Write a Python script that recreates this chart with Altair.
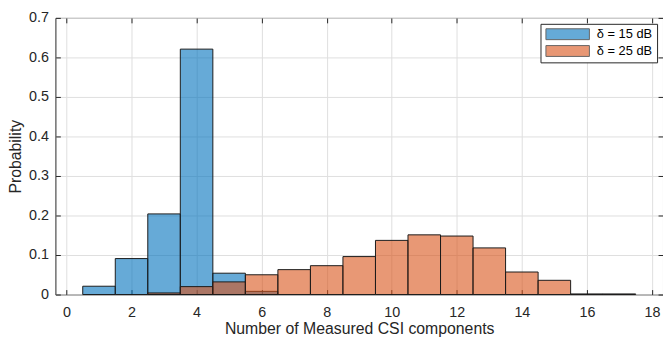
import altair as alt
import pandas as pd

series_labels = ["δ = 15 dB", "δ = 25 dB"]
series_colors = ["#0072BD", "#D95319"]

blue_centers = [1, 2, 3, 4, 5, 6]
blue_probs = [0.021, 0.091, 0.204, 0.621, 0.054, 0.008]

orange_centers = [3, 4, 5, 6, 7, 8, 9, 10, 11, 12, 13, 14, 15, 16, 17]
orange_probs = [0.004, 0.020, 0.032, 0.050, 0.063, 0.073, 0.096, 0.137,
                0.151, 0.148, 0.118, 0.057, 0.036, 0.0015, 0.0015]

x_ticks = [0, 2, 4, 6, 8, 10, 12, 14, 16, 18]
y_ticks = [0, 0.1, 0.2, 0.3, 0.4, 0.5, 0.6, 0.7]

rows = []
for c, p in zip(blue_centers, blue_probs):
    rows.append({"series": series_labels[0], "lo": c - 0.5, "hi": c + 0.5, "p": p, "base": 0})
for c, p in zip(orange_centers, orange_probs):
    rows.append({"series": series_labels[1], "lo": c - 0.5, "hi": c + 0.5, "p": p, "base": 0})
df = pd.DataFrame(rows)

FONT = "Liberation Sans"
TXT = "#262626"

xscale = alt.Scale(domain=[-0.34, 18.34], nice=False, zero=False)
yscale = alt.Scale(domain=[0, 0.7], nice=False)

color = alt.Color(
    "series:N",
    scale=alt.Scale(domain=series_labels, range=series_colors),
    legend=alt.Legend(
        title=None,
        orient="top-right",
        offset=6,
        padding=4,
        strokeColor=TXT,
        fillColor="white",
        labelFont=FONT,
        labelFontSize=13,
        labelColor="#000000",
        labelOffset=40,
        symbolType="M-1,-1.1H7.8V1.1H-1Z",
        symbolSize=100,
        symbolOpacity=0.6,
        symbolStrokeColor="#000000",
        symbolStrokeWidth=1,
        rowPadding=2,
    ),
)

bars = alt.Chart(df).mark_rect(
    fillOpacity=0.6, stroke="#1a1a1a", strokeWidth=1
).encode(
    x=alt.X(
        "lo:Q",
        scale=xscale,
        axis=alt.Axis(
            values=x_ticks, title="Number of Measured CSI components",
            orient="bottom", grid=True, offset=-5, domain=False,
            tickSize=5, labelPadding=11, titlePadding=2,
        ),
    ),
    x2="hi:Q",
    y=alt.Y(
        "p:Q",
        scale=yscale,
        axis=alt.Axis(
            values=y_ticks, title="Probability", orient="left", format=".1~f",
            grid=True, offset=-5, domain=False, tickSize=5,
            labelPadding=7, titlePadding=5,
        ),
    ),
    y2="base:Q",
    color=color,
)

frame = alt.Chart(df).mark_rect(opacity=0).encode(
    x=alt.X("lo:Q", scale=xscale,
            axis=alt.Axis(values=x_ticks, orient="top", labels=False, title=None,
                          grid=False, offset=-5, domain=False, tickSize=5)),
    x2="hi:Q",
    y=alt.Y("p:Q", scale=yscale,
            axis=alt.Axis(values=y_ticks, orient="right", labels=False, title=None,
                          grid=False, offset=-5, domain=False, tickSize=5)),
    y2="base:Q",
)

chart = alt.layer(bars, frame).resolve_axis(
    x="independent", y="independent"
).properties(
    width=615,
    height=280,
    padding={"left": 48, "top": 8, "right": 0, "bottom": 44},
    autosize=alt.AutoSizeParams(type="none"),
).configure_view(
    stroke=TXT, strokeWidth=1
).configure_axis(
    labelFont=FONT, labelFontSize=14.5, labelColor=TXT,
    titleFont=FONT, titleFontSize=16, titleFontWeight="normal", titleColor=TXT,
    tickColor=TXT, gridColor="#dedede", gridWidth=1,
)

chart.save("out.html", embed_options={"renderer": "svg", "actions": False})
